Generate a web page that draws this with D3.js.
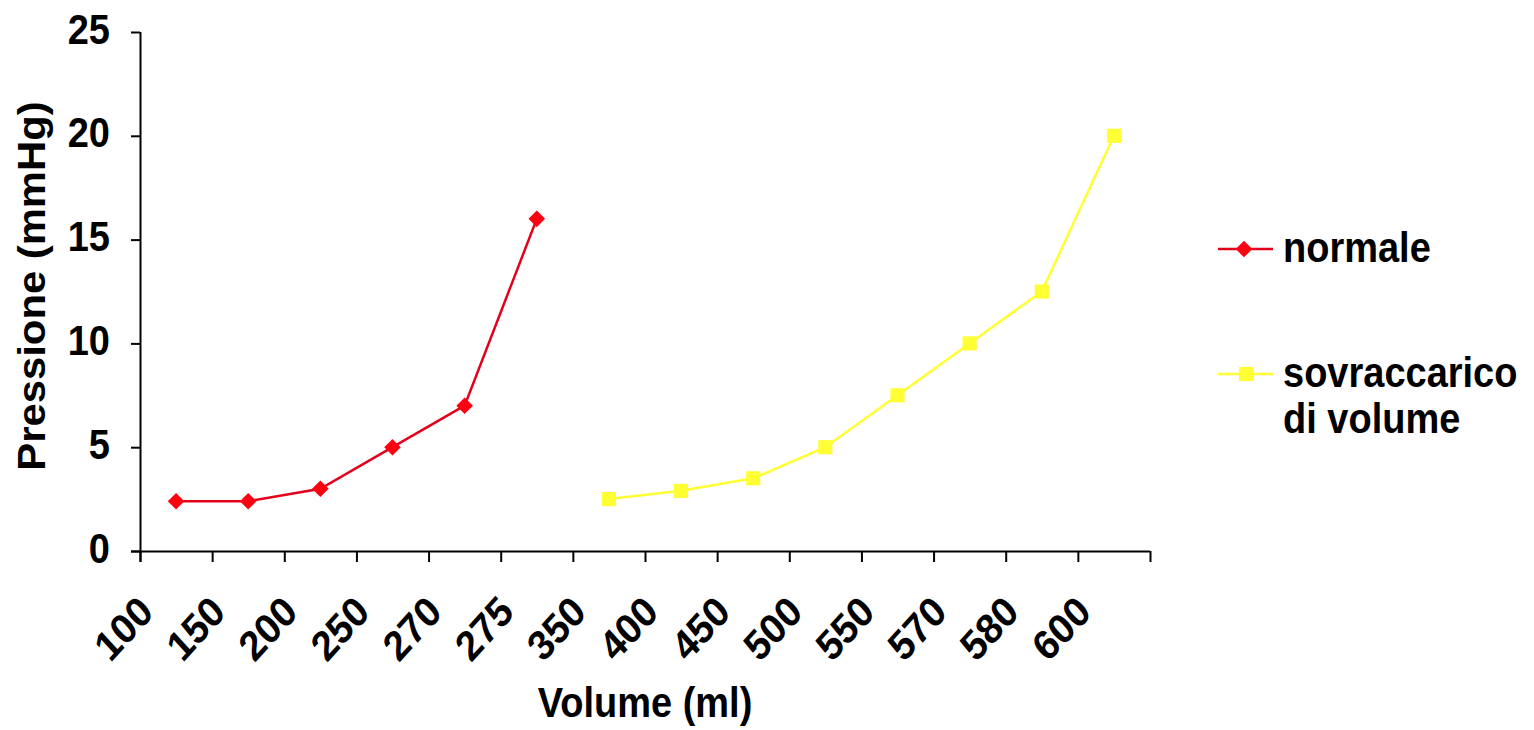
<!DOCTYPE html>
<html>
<head>
<meta charset="utf-8">
<script src="https://cdn.jsdelivr.net/npm/d3@7.9.0/dist/d3.min.js"></script>
<style>
  html, body { margin: 0; padding: 0; background: #fff; }
  svg { display: block; }
  text { font-family: "Liberation Sans", Arial, sans-serif; font-weight: bold; fill: #000; }
</style>
</head>
<body>
<div id="chart"></div>
<script>
// categories on the x axis (Excel-style category axis)
const volumes = ['100', '150', '200', '250', '270', '275', '350', '400', '450', '500', '550', '570', '580', '600'];

// pressure values, each series sits on its own categories
const normaleIdx = [0, 1, 2, 3, 4, 5];
const normaleVals = [2.4, 2.4, 3, 5, 7, 16];

const sovraIdx = [6, 7, 8, 9, 10, 11, 12, 13];
const sovraVals = [2.5, 2.9, 3.5, 5, 7.5, 10, 12.5, 20];

const yTicks = [0, 5, 10, 15, 20, 25];

const width = 1534;
const height = 730;
const plot = { left: 140, right: 1150, top: 32, bottom: 551 };
const stretch = 'scale(1,1.1)'; // the picture is a bit taller than normal type

const svg = d3.select('#chart')
  .append('svg')
  .attr('width', width)
  .attr('height', height);

const x = d3.scaleLinear().domain([0, volumes.length]).range([plot.left, plot.right]);
const y = d3.scaleLinear().domain([0, 25]).range([plot.bottom, plot.top]);

// x axis: ticks between categories, no labels from d3
const xAxis = svg.append('g')
  .attr('transform', `translate(0, ${plot.bottom})`)
  .call(d3.axisBottom(x).tickValues(d3.range(volumes.length + 1)).tickFormat('').tickSize(11).tickSizeOuter(0));
xAxis.select('.domain').attr('stroke-width', 2).attr('d', `M${plot.left - 9},0.5H${plot.right}`);
xAxis.selectAll('.tick line').attr('stroke-width', 2);

// rotated category labels
svg.append('g')
  .selectAll('text')
  .data(volumes)
  .join('text')
  .attr('transform', (d, i) => `translate(${x(i + 0.5) - 21}, ${plot.bottom + 63}) ${stretch} rotate(-45)`)
  .attr('text-anchor', 'end')
  .style('font-size', '38px')
  .text(d => d);

// y axis
const yAxis = svg.append('g')
  .attr('transform', `translate(${plot.left}, 0)`)
  .call(d3.axisLeft(y).tickValues(yTicks).tickSize(9).tickSizeOuter(0));
yAxis.select('.domain').attr('stroke-width', 2).attr('d', `M0.5,${plot.top}V${plot.bottom + 11}`);
yAxis.selectAll('.tick line').attr('stroke-width', 2);
yAxis.selectAll('.tick text')
  .attr('x', null)
  .attr('dy', null)
  .attr('transform', `translate(-30, 11) ${stretch}`)
  .attr('fill', '#000')
  .style('font-size', '38px')
  .style('font-family', '"Liberation Sans", Arial, sans-serif')
  .style('font-weight', 'bold');

// axis titles
svg.append('text')
  .attr('transform', `translate(${(plot.left + plot.right) / 2}, 717) ${stretch}`)
  .attr('text-anchor', 'middle')
  .style('font-size', '38px')
  .text('Volume (ml)');

svg.append('text')
  .attr('transform', `translate(45, 286) ${stretch} rotate(-90)`)
  .attr('text-anchor', 'middle')
  .style('font-size', '38px')
  .text('Pressione (mmHg)');

// series
const line = d3.line().x(d => x(d[0] + 0.5)).y(d => y(d[1]));

const redLine = '#e3001b';
const redMark = '#ff0010';
const yellow = '#ffff33';

svg.append('path')
  .datum(d3.zip(normaleIdx, normaleVals))
  .attr('d', line)
  .attr('fill', 'none')
  .attr('stroke', redLine)
  .attr('stroke-width', 2.5);

svg.append('path')
  .datum(d3.zip(sovraIdx, sovraVals))
  .attr('d', line)
  .attr('fill', 'none')
  .attr('stroke', yellow)
  .attr('stroke-width', 2.5);

const diamond = d3.symbol().type(d3.symbolDiamond2).size(175);
const square = d3.symbol().type(d3.symbolSquare).size(200);

svg.append('g')
  .selectAll('path')
  .data(d3.zip(normaleIdx, normaleVals))
  .join('path')
  .attr('transform', d => `translate(${x(d[0] + 0.5)}, ${y(d[1])})`)
  .attr('d', diamond)
  .attr('fill', redMark);

svg.append('g')
  .selectAll('path')
  .data(d3.zip(sovraIdx, sovraVals))
  .join('path')
  .attr('transform', d => `translate(${x(d[0] + 0.5)}, ${y(d[1])})`)
  .attr('d', square)
  .attr('fill', yellow);

// legend
const legend = svg.append('g');

legend.append('line')
  .attr('x1', 1218).attr('x2', 1273).attr('y1', 249).attr('y2', 249)
  .attr('stroke', redLine).attr('stroke-width', 2.5);
legend.append('path')
  .attr('transform', 'translate(1244, 249)')
  .attr('d', diamond)
  .attr('fill', redMark);
legend.append('text')
  .attr('transform', `translate(1283, 262) ${stretch}`)
  .style('font-size', '38px')
  .text('normale');

legend.append('line')
  .attr('x1', 1218).attr('x2', 1273).attr('y1', 374).attr('y2', 374)
  .attr('stroke', yellow).attr('stroke-width', 2.5);
legend.append('path')
  .attr('transform', 'translate(1246, 374)')
  .attr('d', square)
  .attr('fill', yellow);
legend.append('text')
  .attr('transform', `translate(1283, 387) ${stretch}`)
  .style('font-size', '38px')
  .text('sovraccarico');
legend.append('text')
  .attr('transform', `translate(1283, 433) ${stretch}`)
  .style('font-size', '38px')
  .text('di volume');
</script>
</body>
</html>
